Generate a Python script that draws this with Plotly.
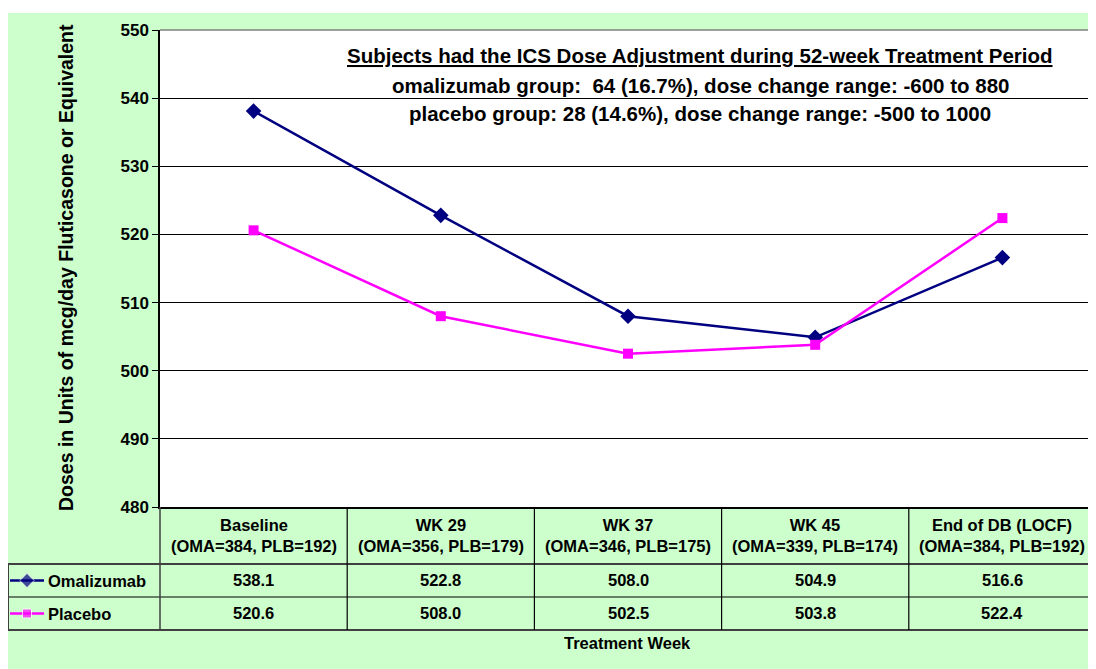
import plotly.graph_objects as go

# data
categories = ["Baseline", "WK 29", "WK 37", "WK 45", "End of DB (LOCF)"]
n_labels = ["(OMA=384, PLB=192)", "(OMA=356, PLB=179)", "(OMA=346, PLB=175)",
            "(OMA=339, PLB=174)", "(OMA=384, PLB=192)"]
omalizumab = [538.1, 522.8, 508.0, 504.9, 516.6]
placebo = [520.6, 508.0, 502.5, 503.8, 522.4]
series_names = ["Omalizumab", "Placebo"]
series_colors = ["#000080", "#FF00FF"]
series_symbols = ["diamond", "square"]

title_lines = [
    "<u>Subjects had the ICS Dose Adjustment during 52-week Treatment Period</u>",
    "omalizumab group: &nbsp;64 (16.7%), dose change range: -600 to 880",
    "placebo group: 28 (14.6%), dose change range: -500 to 1000",
]

# the page body adds an 8px margin, so work in screen pixels and shift
OFF = 8
W, H = 1096 - OFF, 669 - OFF
FONT = "Arial, Liberation Sans, sans-serif"
GREEN = "#CCFFCC"


def fx(p):
    return (p - OFF) / W


def fy(p):
    return 1 - (p - OFF) / H


fig = go.Figure()

for name, vals, col, sym in zip(series_names, [omalizumab, placebo], series_colors, series_symbols):
    fig.add_trace(go.Scatter(
        x=categories, y=vals, name=name, mode="lines+markers",
        line=dict(color=col, width=2.5),
        marker=dict(symbol=sym, size=12 if sym == "diamond" else 10, color=col),
        showlegend=False, xaxis="x", yaxis="y"))

# legend keys inside the table's left column
for i, (col, sym) in enumerate(zip(series_colors, series_symbols)):
    fig.add_trace(go.Scatter(
        x=[0, 0.5, 1], y=[1.5 - i] * 3, mode="lines+markers",
        line=dict(color=col, width=2.5),
        marker=dict(symbol=sym, size=[0, 11 if sym == "diamond" else 9, 0], color=col),
        showlegend=False, xaxis="x2", yaxis="y2", hoverinfo="skip"))

shapes = [
    # green chart area
    dict(type="rect", xref="paper", yref="paper", x0=0, x1=1, y0=0, y1=fy(13),
         fillcolor=GREEN, line_width=0, layer="below"),
    # white plot area
    dict(type="rect", xref="x domain", yref="y domain", x0=0, x1=1, y0=0, y1=1,
         fillcolor="white", line_width=0, layer="below"),
    # gray top border of plot area
    dict(type="line", xref="x domain", yref="y domain", x0=0, x1=1, y0=1, y1=1,
         line=dict(color="#808080", width=1.5)),
]

# table rules
for yp, w, c in [(564, 2, "#404040"), (597, 1.2, "#000000"), (630, 2, "#404040")]:
    shapes.append(dict(type="line", xref="paper", yref="paper", x0=fx(7), x1=1,
                       y0=fy(yp), y1=fy(yp), line=dict(color=c, width=w)))
shapes.append(dict(type="line", xref="paper", yref="paper", x0=fx(8), x1=fx(8),
                   y0=fy(564), y1=fy(630), line=dict(color="#404040", width=2)))
shapes.append(dict(type="line", xref="paper", yref="paper", x0=fx(160), x1=fx(160),
                   y0=fy(507), y1=fy(630), line=dict(color="#404040", width=1.5)))
for i in range(len(categories) - 1):
    shapes.append(dict(type="line", xref="x", yref="paper", x0=i + 0.5, x1=i + 0.5,
                       y0=fy(507), y1=fy(630), line=dict(color="#000000", width=1.2)))

ann = []
tfont = dict(family=FONT, size=16.5, color="black")
for cat, nl, a, p in zip(categories, n_labels, omalizumab, placebo):
    ann.append(dict(x=cat, xref="x", y=fy(535), yref="paper", text=f"<b>{cat}<br>{nl}</b>",
                    showarrow=False, font=tfont, align="center", yanchor="middle"))
    ann.append(dict(x=cat, xref="x", y=fy(580), yref="paper", text=f"<b>{a:.1f}</b>",
                    showarrow=False, font=tfont, yanchor="middle"))
    ann.append(dict(x=cat, xref="x", y=fy(613), yref="paper", text=f"<b>{p:.1f}</b>",
                    showarrow=False, font=tfont, yanchor="middle"))

for i, name in enumerate(series_names):
    ann.append(dict(x=fx(46), xref="paper", y=1.5 - i, yref="y2", text=f"<b>{name}</b>",
                    showarrow=False, xanchor="left", yanchor="middle", font=tfont))

ann.append(dict(x=fx(627), xref="paper", y=fy(643), yref="paper", text="<b>Treatment Week</b>",
                showarrow=False, font=tfont, xanchor="center", yanchor="middle"))
ann.append(dict(x=fx(66), xref="paper", y=fy(268), yref="paper", textangle=-90,
                text="<b>Doses in Units of mcg/day Fluticasone or Equivalent</b>",
                showarrow=False, xanchor="center", yanchor="middle",
                font=dict(family=FONT, size=19.5, color="black")))

for line, yp in zip(title_lines, [55, 85, 113]):
    ann.append(dict(x=fx(700), xref="paper", y=fy(yp), yref="paper", text=f"<b>{line}</b>",
                    showarrow=False, xanchor="center", yanchor="middle",
                    font=dict(family=FONT, size=20.5, color="black")))

fig.update_layout(
    width=W, height=H, autosize=False,
    margin=dict(l=0, r=0, t=0, b=0),
    paper_bgcolor="white", plot_bgcolor="rgba(0,0,0,0)",
    template="none", showlegend=False,
    font=dict(family=FONT, color="black"),
    xaxis=dict(domain=[fx(160), 1], type="category", range=[-0.5, len(categories) - 0.5],
               showticklabels=False, ticks="", showgrid=False, showline=True,
               linecolor="black", linewidth=1.5, zeroline=False, automargin=False),
    yaxis=dict(domain=[fy(507), fy(30)], range=[480, 550], dtick=10, tick0=480,
               showgrid=True, gridcolor="black", gridwidth=1, showline=True,
               linecolor="black", linewidth=1.5, ticks="outside", ticklen=6,
               tickcolor="black", zeroline=False, automargin=False,
               tickfont=dict(family=FONT, size=17, color="black"), tickprefix="<b>",
               ticksuffix="</b>"),
    xaxis2=dict(domain=[fx(10), fx(44)], range=[0, 1], visible=False, anchor="y2"),
    yaxis2=dict(domain=[fy(630), fy(564)], range=[0, 2], visible=False, anchor="x2"),
    shapes=shapes, annotations=ann,
)

fig.write_html("out.html")
